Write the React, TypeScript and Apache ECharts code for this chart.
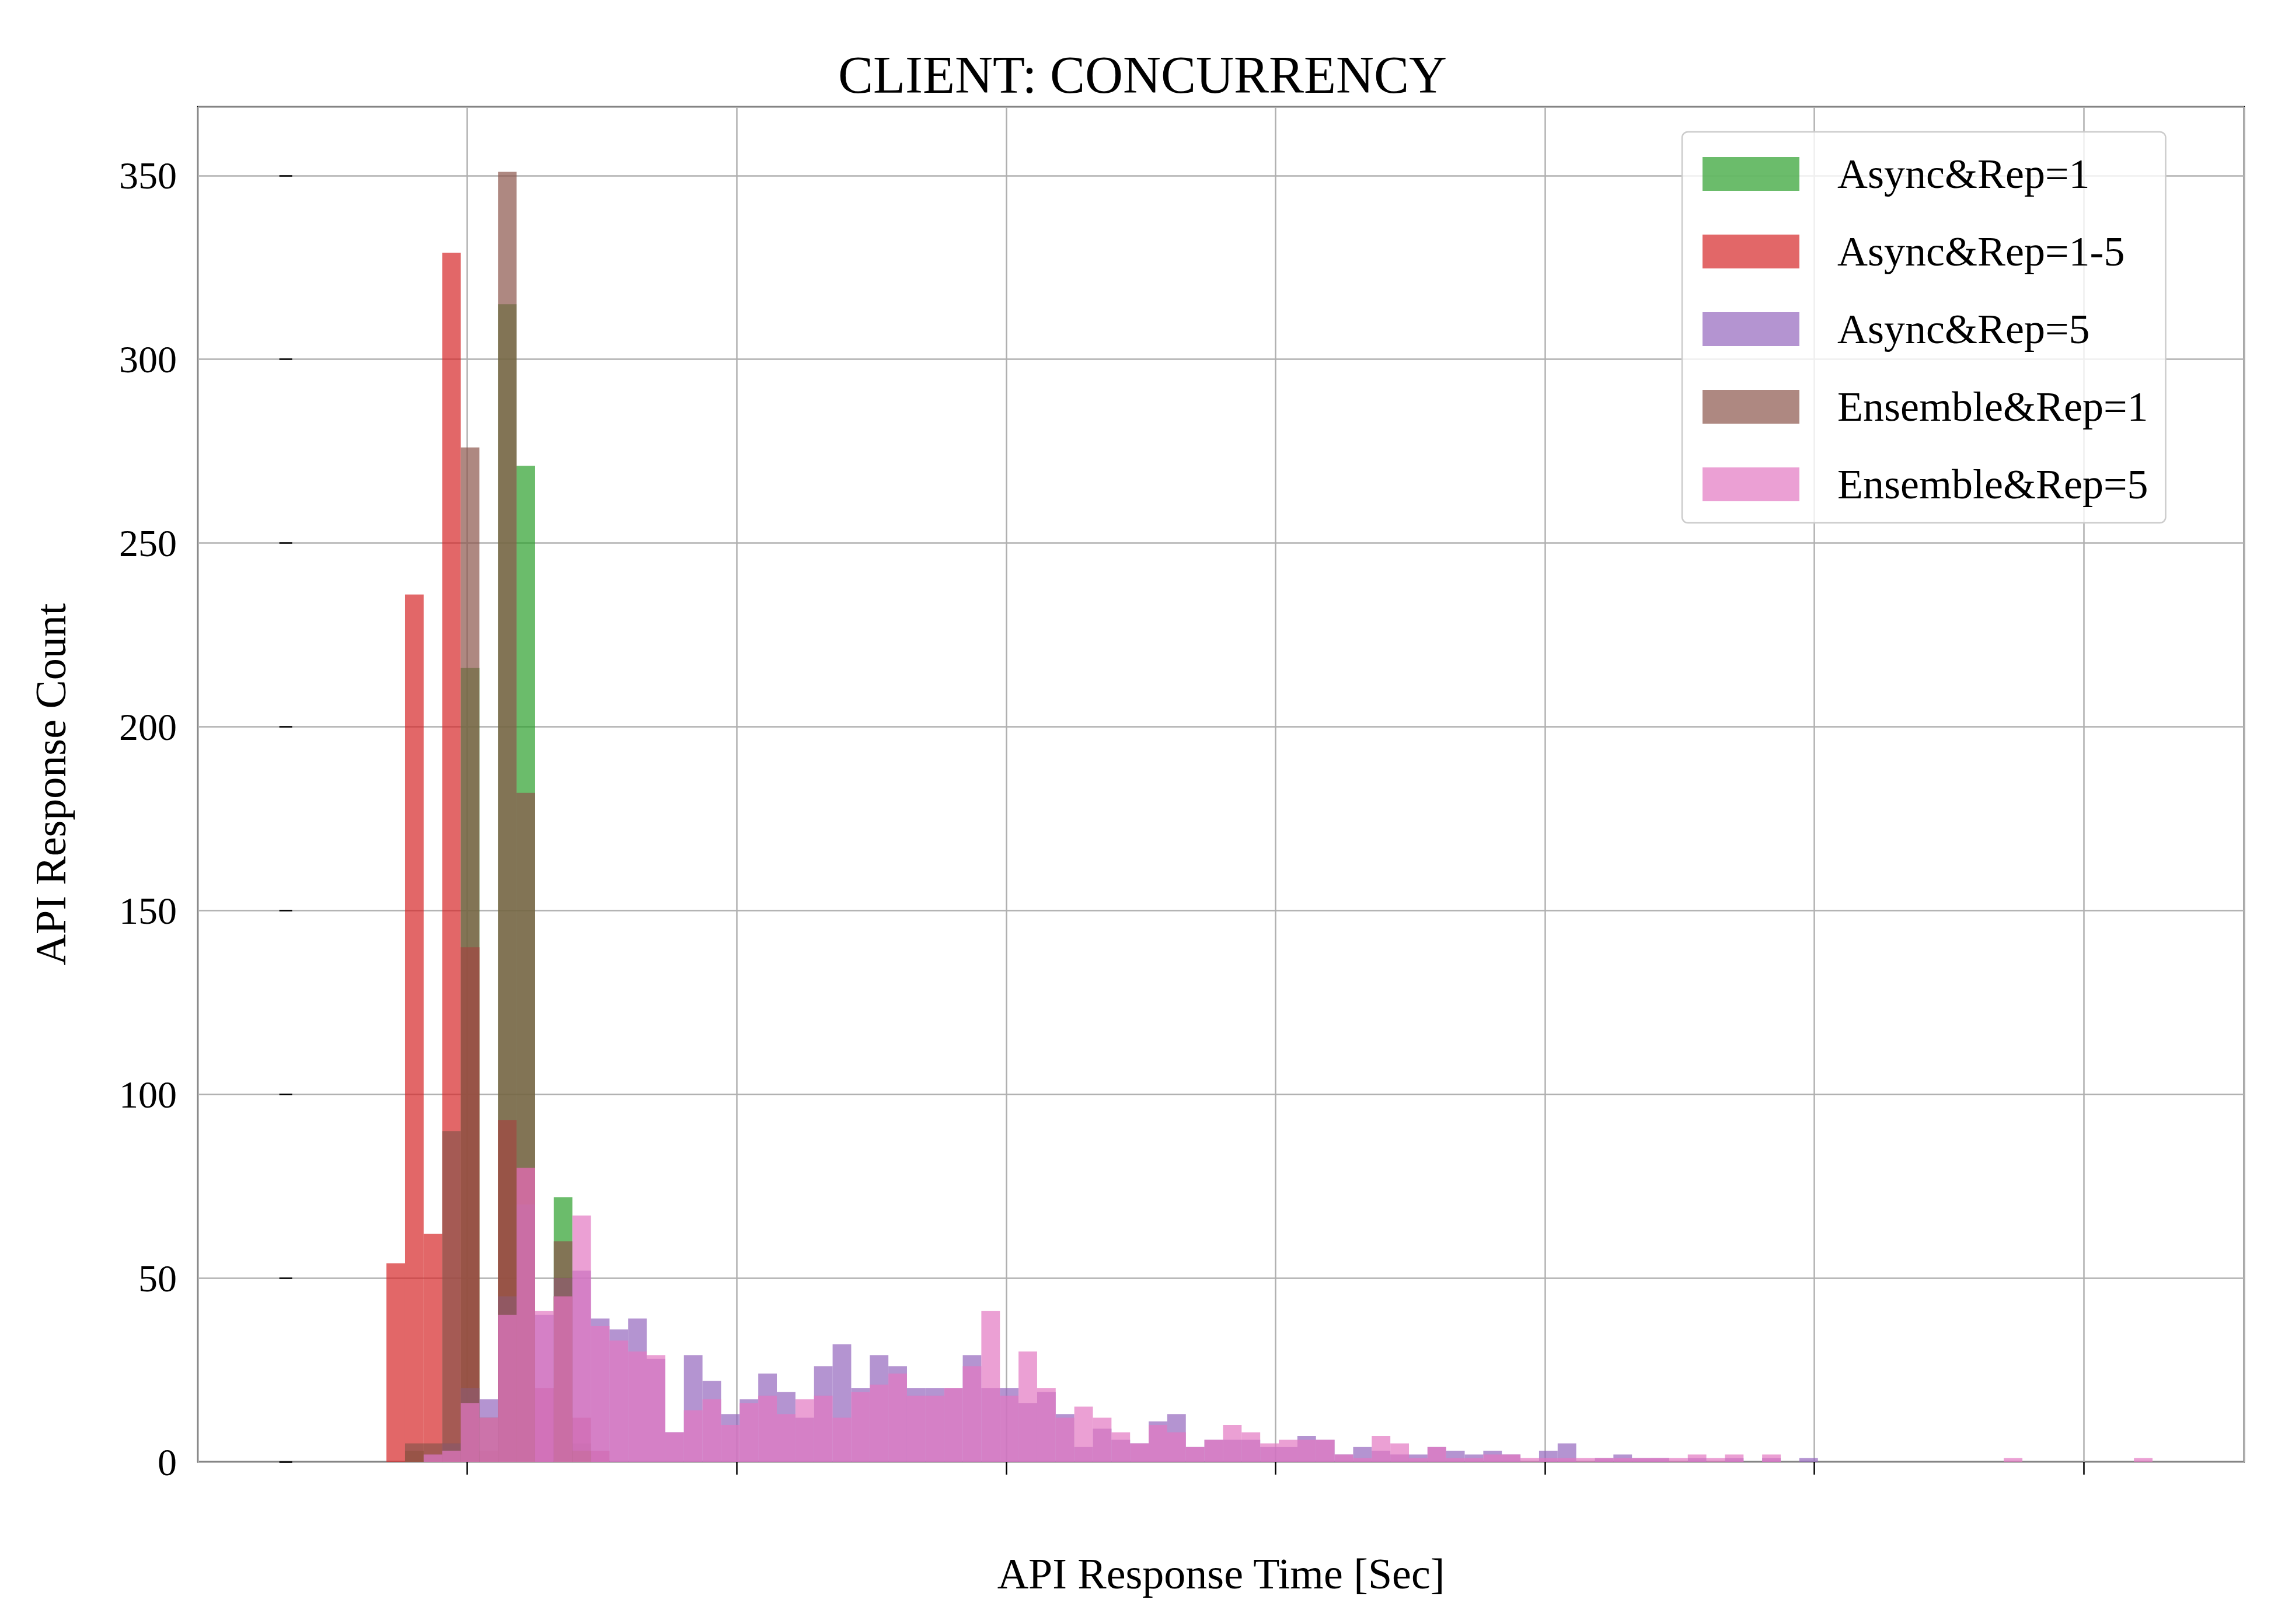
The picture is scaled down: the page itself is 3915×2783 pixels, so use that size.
import React, { useEffect, useRef } from "react";
import * as echarts from "echarts";

const BIN_START = 0.35;
const BIN_WIDTH = 0.069;

const seriesNames = ["Async&Rep=1", "Async&Rep=1-5", "Async&Rep=5", "Ensemble&Rep=1", "Ensemble&Rep=5"];
const seriesColors = ["rgba(44,160,44,0.7)", "rgba(214,39,40,0.7)", "rgba(148,103,189,0.7)", "rgba(140,86,75,0.7)", "rgba(227,119,194,0.7)"];

const asyncRep1 = [0, 3, 0, 5, 216, 0, 315, 271, 0, 72, 5];
const asyncRep15 = [54, 236, 62, 329, 140, 3, 93, 80, 20, 45, 12, 3];
const asyncRep5 = [0, 0, 2, 5, 20, 17, 45, 70, 40, 50, 52, 39, 36, 39, 28, 8, 29, 22, 13, 17, 24, 19, 12, 26, 32, 20, 29, 26, 20, 20, 20, 29, 20, 20, 16, 19, 13, 4, 9, 6, 5, 11, 13, 4, 6, 6, 6, 4, 4, 7, 6, 2, 4, 3, 2, 2, 4, 3, 2, 3, 2, 0, 3, 5, 0, 1, 2, 1, 1, 0, 1, 0, 1, 0, 1, 0, 1];
const ensembleRep1 = [0, 5, 5, 90, 276, 12, 351, 182, 0, 60, 3];
const ensembleRep5 = [0, 0, 2, 3, 16, 12, 40, 80, 41, 45, 67, 37, 33, 30, 29, 8, 14, 17, 10, 16, 18, 13, 17, 18, 12, 19, 21, 24, 18, 18, 20, 26, 41, 18, 30, 20, 12, 15, 12, 8, 5, 10, 8, 4, 6, 10, 8, 5, 6, 6, 6, 2, 1, 7, 5, 1, 4, 1, 1, 2, 2, 1, 1, 1, 1, 1, 1, 1, 1, 1, 2, 1, 2, 0, 2, 0, 0, 0, 0, 0, 0, 0, 0, 0, 0, 0, 0, 1, 0, 0, 0, 0, 0, 0, 1];

const allCounts = [asyncRep1, asyncRep15, asyncRep5, ensembleRep1, ensembleRep5];

const xTicks = [0, 1, 2, 3, 4, 5, 6, 7];

export default function App() {
  const ref = useRef<HTMLDivElement>(null);
  useEffect(() => {
    document.body.style.margin = "0";
    const chart = echarts.init(ref.current!, null, { renderer: "svg" });
    const font = "Liberation Serif";
    const series = allCounts.map((counts, si) => ({
      type: "custom",
      name: seriesNames[si],
      itemStyle: { color: seriesColors[si] },
      encode: { x: [0, 1], y: 2 },
      data: counts
        .map((c, k) => [BIN_START + k * BIN_WIDTH, BIN_START + (k + 1) * BIN_WIDTH, c])
        .filter((d) => d[2] > 0),
      renderItem: (params: any, api: any) => {
        const p0 = api.coord([api.value(0), api.value(2)]);
        const p1 = api.coord([api.value(1), 0]);
        return {
          type: "rect",
          shape: { x: p0[0], y: p0[1], width: p1[0] - p0[0], height: p1[1] - p0[1] },
          style: { fill: seriesColors[si] },
        };
      },
    }));
    chart.setOption({
      animation: false,
      backgroundColor: "#fff",
      title: {
        text: "CLIENT: CONCURRENCY",
        left: "center",
        top: 78,
        textStyle: { fontFamily: font, fontSize: 90, fontWeight: "normal", color: "#000" },
      },
      grid: { left: 339, right: 70, top: 183, bottom: 278, show: true, borderColor: "#000", borderWidth: 2.5, backgroundColor: "transparent" },
      legend: {
        orient: "vertical",
        left: 2882,
        top: 226,
        padding: [36, 30, 30, 35],
        itemWidth: 166,
        itemHeight: 58,
        itemGap: 61,
        icon: "rect",
        borderColor: "#cccccc",
        borderWidth: 2.5,
        borderRadius: 10,
        backgroundColor: "rgba(255,255,255,0.8)",
        data: seriesNames,
        textStyle: { fontFamily: font, fontSize: 72, color: "#000", padding: [0, 0, 0, 60] },
      },
      xAxis: {
        type: "value",
        min: -0.35,
        max: 7.245,
        interval: 1,
        name: "API Response Time [Sec]",
        nameLocation: "middle",
        nameGap: 155,
        nameTextStyle: { fontFamily: font, fontSize: 74, color: "#000" },
        axisLine: { show: false },
        axisTick: { show: true, length: 22, lineStyle: { color: "#000", width: 2.5 }, inside: false },
        axisLabel: {
          showMinLabel: false,
          showMaxLabel: false,
          margin: 36,
          fontFamily: font,
          fontSize: 66,
          color: "#000",
          formatter: (v: number) => (xTicks.indexOf(v) >= 0 ? String(v) : ""),
        },
        splitLine: { show: true, lineStyle: { color: "#b0b0b0", width: 2.5 } },
      },
      yAxis: {
        type: "value",
        min: 0,
        max: 368.7,
        interval: 50,
        name: "API Response Count",
        nameLocation: "middle",
        nameGap: 215,
        nameTextStyle: { fontFamily: font, fontSize: 74, color: "#000" },
        axisLine: { show: false },
        axisTick: { show: true, length: 22, lineStyle: { color: "#000", width: 2.5 } },
        axisLabel: { showMaxLabel: false, margin: 36, fontFamily: font, fontSize: 66, color: "#000" },
        splitLine: { show: true, lineStyle: { color: "#b0b0b0", width: 2.5 } },
      },
      series,
    });
    return () => chart.dispose();
  }, []);
  return <div ref={ref} style={{ width: 3915, height: 2783 }} />;
}
